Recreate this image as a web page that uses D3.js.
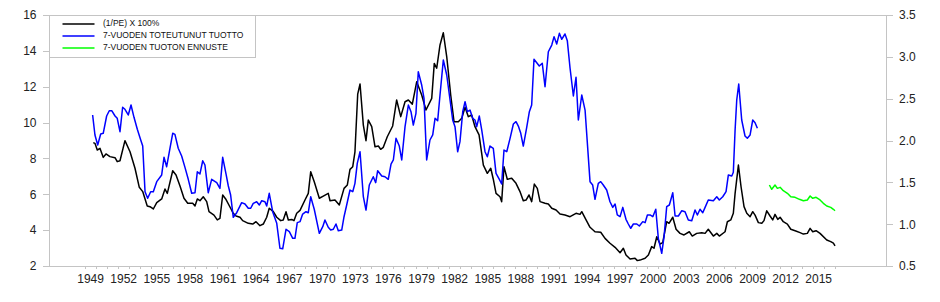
<!DOCTYPE html>
<html>
<head>
<meta charset="utf-8">
<script src="https://cdn.jsdelivr.net/npm/d3@7"></script>
<style>
  body { margin: 0; background: #fff; }
  svg { display: block; font-family: 'Liberation Sans', Arial, Helvetica, sans-serif; }
  .axis text { fill: #222; font-size: 12px; }
  .axis path, .axis line { stroke: #c4c4c4; shape-rendering: crispEdges; }
  .legend text { font-size: 8.5px; fill: #111; }
</style>
</head>
<body>
<svg width="940" height="302"></svg>
<script>
// (1/PE) x 100%, left axis
const peYears = [1949.79, 1949.94, 1950.15, 1950.40, 1950.69, 1950.94, 1951.30, 1951.76, 1951.96, 1952.21, 1952.66, 1953.12, 1953.57, 1953.96, 1954.27, 1954.68, 1954.93, 1955.23, 1955.54, 1955.99, 1956.29, 1956.50, 1956.99, 1957.29, 1957.65, 1958.01, 1958.35, 1958.80, 1959.01, 1959.22, 1959.46, 1959.76, 1960.07, 1960.28, 1960.73, 1961.03, 1961.27, 1961.52, 1961.79, 1962.24, 1962.48, 1962.73, 1963.09, 1963.33, 1963.84, 1964.24, 1964.54, 1964.90, 1965.20, 1965.51, 1965.74, 1966.11, 1966.42, 1966.78, 1967.01, 1967.26, 1967.47, 1967.78, 1967.98, 1968.23, 1968.53, 1968.98, 1969.28, 1969.50, 1969.82, 1970.28, 1970.64, 1971.09, 1971.25, 1971.70, 1972.09, 1972.52, 1972.82, 1973.06, 1973.31, 1973.51, 1973.76, 1973.97, 1974.27, 1974.51, 1974.72, 1975.03, 1975.33, 1975.63, 1975.84, 1976.08, 1976.44, 1976.93, 1977.29, 1977.66, 1978.05, 1978.35, 1978.71, 1979.11, 1979.56, 1979.95, 1980.47, 1980.70, 1980.92, 1981.22, 1981.52, 1981.83, 1982.19, 1982.49, 1982.88, 1983.19, 1983.49, 1983.79, 1984.09, 1984.39, 1984.76, 1985.15, 1985.51, 1985.82, 1986.05, 1986.30, 1986.66, 1986.81, 1987.02, 1987.32, 1987.72, 1988.11, 1988.47, 1988.77, 1989.02, 1989.29, 1989.53, 1989.77, 1990.04, 1990.29, 1990.74, 1991.04, 1991.35, 1991.74, 1992.10, 1992.55, 1993.01, 1993.55, 1993.91, 1994.07, 1994.46, 1994.82, 1995.27, 1995.79, 1996.18, 1996.63, 1997.09, 1997.54, 1997.84, 1998.08, 1998.45, 1998.90, 1999.11, 1999.35, 1999.81, 2000.11, 2000.41, 2000.62, 2000.87, 2001.17, 2001.41, 2001.77, 2001.98, 2002.32, 2002.62, 2002.98, 2003.34, 2003.82, 2004.09, 2004.49, 2004.95, 2005.25, 2005.54, 2006.00, 2006.31, 2006.54, 2007.06, 2007.27, 2007.58, 2007.81, 2007.97, 2008.27, 2008.51, 2008.78, 2009.03, 2009.33, 2009.57, 2009.78, 2010.08, 2010.39, 2010.59, 2010.84, 2011.14, 2011.38, 2011.59, 2011.84, 2012.05, 2012.34, 2012.71, 2013.02, 2013.41, 2013.86, 2014.16, 2014.52, 2014.77, 2015.01, 2015.31, 2015.67, 2016.28, 2016.64, 2016.88, 2017.03]
const peValues = [8.88, 8.84, 8.47, 8.56, 8.06, 8.25, 8.10, 8.04, 7.82, 7.87, 8.99, 8.37, 7.45, 6.39, 6.15, 5.35, 5.31, 5.18, 5.53, 5.74, 6.29, 6.05, 7.31, 7.08, 6.46, 5.78, 5.50, 5.50, 5.35, 5.74, 5.64, 5.86, 5.59, 5.03, 4.84, 4.57, 4.66, 5.96, 5.74, 5.22, 4.94, 4.79, 4.72, 4.53, 4.38, 4.34, 4.47, 4.25, 4.34, 4.72, 5.22, 5.03, 4.72, 4.53, 4.57, 5.03, 4.57, 4.60, 4.53, 4.94, 5.10, 5.68, 6.05, 7.26, 6.70, 5.78, 5.90, 6.05, 5.64, 5.68, 5.40, 6.33, 6.52, 7.39, 7.54, 8.37, 11.59, 12.15, 9.86, 8.99, 10.14, 9.77, 8.65, 8.69, 8.51, 8.62, 9.21, 9.81, 11.26, 10.33, 11.16, 11.26, 11.03, 12.28, 11.54, 10.70, 11.35, 13.30, 13.03, 14.33, 15.01, 13.67, 11.54, 10.05, 10.05, 10.24, 10.85, 10.33, 10.42, 9.77, 9.31, 7.63, 7.17, 7.45, 6.84, 6.05, 5.86, 5.59, 7.54, 6.84, 6.89, 6.61, 6.15, 5.64, 5.68, 5.96, 5.59, 6.57, 6.33, 5.59, 5.50, 5.46, 5.22, 5.12, 4.90, 4.84, 4.75, 4.94, 4.88, 5.03, 4.57, 4.16, 3.91, 3.88, 3.54, 3.27, 3.04, 2.74, 2.99, 2.61, 2.39, 2.43, 2.30, 2.33, 2.43, 2.61, 3.08, 2.99, 3.63, 3.23, 3.30, 4.47, 4.38, 4.72, 4.05, 3.82, 3.73, 3.91, 3.67, 3.82, 3.86, 3.82, 4.05, 3.67, 3.82, 3.67, 3.91, 4.47, 4.57, 4.94, 6.05, 7.63, 6.42, 5.31, 4.94, 4.75, 5.03, 4.84, 4.42, 4.38, 4.53, 5.08, 4.79, 4.57, 4.88, 4.60, 4.72, 4.47, 4.34, 4.05, 3.97, 3.86, 3.78, 3.82, 4.10, 3.91, 3.97, 3.82, 3.45, 3.36, 3.27, 3.12]

// 7-year realised return, right axis
const realYears = [1949.73, 1949.94, 1950.19, 1950.46, 1950.69, 1951.00, 1951.24, 1951.46, 1951.76, 1951.96, 1952.21, 1952.45, 1952.66, 1952.96, 1953.21, 1953.48, 1953.78, 1954.09, 1954.27, 1954.48, 1954.72, 1954.99, 1955.23, 1955.54, 1955.99, 1956.20, 1956.44, 1956.74, 1956.99, 1957.19, 1957.49, 1957.80, 1958.10, 1958.40, 1958.71, 1959.01, 1959.22, 1959.46, 1959.71, 1959.91, 1960.21, 1960.52, 1960.98, 1961.27, 1961.52, 1961.82, 1962.03, 1962.24, 1962.48, 1962.79, 1963.24, 1963.54, 1963.84, 1964.06, 1964.29, 1964.60, 1964.84, 1965.06, 1965.35, 1965.51, 1965.74, 1966.05, 1966.42, 1966.71, 1966.96, 1967.26, 1967.56, 1967.87, 1968.07, 1968.28, 1968.53, 1968.77, 1969.07, 1969.28, 1969.50, 1969.82, 1970.28, 1970.59, 1970.79, 1971.09, 1971.31, 1971.55, 1971.79, 1972.00, 1972.31, 1972.52, 1972.76, 1973.06, 1973.31, 1973.51, 1973.72, 1973.97, 1974.27, 1974.51, 1974.81, 1975.17, 1975.39, 1975.57, 1975.94, 1976.23, 1976.53, 1976.78, 1976.99, 1977.23, 1977.53, 1977.75, 1978.05, 1978.35, 1978.59, 1978.80, 1979.04, 1979.25, 1979.56, 1979.77, 1980.01, 1980.31, 1980.56, 1980.77, 1981.01, 1981.22, 1981.52, 1981.83, 1982.13, 1982.37, 1982.58, 1982.82, 1983.03, 1983.28, 1983.49, 1983.70, 1983.94, 1984.18, 1984.39, 1984.55, 1984.78, 1985.00, 1985.30, 1985.51, 1985.75, 1986.05, 1986.30, 1986.60, 1986.81, 1987.02, 1987.27, 1987.57, 1987.87, 1988.11, 1988.32, 1988.54, 1988.77, 1989.08, 1989.32, 1989.53, 1989.74, 1989.99, 1990.22, 1990.49, 1990.74, 1991.04, 1991.35, 1991.56, 1991.80, 1992.04, 1992.25, 1992.55, 1992.76, 1993.01, 1993.31, 1993.55, 1993.76, 1994.07, 1994.37, 1994.82, 1995.06, 1995.27, 1995.57, 1995.79, 1996.02, 1996.33, 1996.63, 1996.88, 1997.09, 1997.29, 1997.54, 1997.79, 1998.08, 1998.29, 1998.51, 1998.75, 1999.06, 1999.29, 1999.60, 1999.81, 2000.02, 2000.26, 2000.51, 2000.78, 2001.01, 2001.32, 2001.53, 2001.77, 2002.01, 2002.32, 2002.53, 2002.83, 2003.14, 2003.43, 2003.73, 2004.04, 2004.34, 2004.55, 2004.79, 2005.04, 2005.25, 2005.54, 2006.00, 2006.31, 2006.54, 2006.85, 2007.15, 2007.36, 2007.67, 2007.81, 2007.97, 2008.12, 2008.30, 2008.57, 2008.87, 2009.08, 2009.33, 2009.57, 2009.78, 2009.99]
const realValues = [2.305, 2.066, 1.946, 2.078, 2.086, 2.293, 2.356, 2.356, 2.293, 2.265, 2.105, 2.397, 2.373, 2.305, 2.424, 2.277, 2.134, 2.006, 1.934, 1.388, 1.309, 1.388, 1.388, 1.508, 1.588, 1.799, 1.687, 1.907, 2.086, 2.074, 1.907, 1.815, 1.679, 1.536, 1.369, 1.376, 1.627, 1.600, 1.758, 1.707, 1.376, 1.536, 1.496, 1.428, 1.799, 1.600, 1.456, 1.349, 1.082, 1.137, 1.257, 1.241, 1.190, 1.190, 1.249, 1.268, 1.229, 1.280, 1.268, 1.217, 1.369, 1.149, 1.010, 0.712, 0.705, 0.939, 0.910, 0.831, 0.831, 1.018, 1.030, 1.121, 1.149, 1.137, 1.328, 1.178, 0.891, 0.970, 1.050, 0.963, 0.930, 0.939, 1.002, 0.922, 0.930, 1.089, 1.229, 1.408, 1.388, 1.488, 1.727, 1.866, 1.328, 1.169, 1.468, 1.567, 1.496, 1.639, 1.576, 1.567, 1.536, 1.719, 1.767, 2.026, 1.934, 1.767, 2.165, 2.424, 2.344, 2.185, 2.325, 2.822, 2.663, 2.504, 1.767, 2.006, 2.066, 2.265, 2.237, 2.544, 2.962, 2.783, 2.484, 2.245, 2.165, 1.866, 1.986, 2.344, 2.464, 2.344, 2.364, 2.265, 2.245, 2.165, 2.293, 2.126, 1.866, 1.806, 1.934, 1.907, 1.608, 1.536, 1.480, 1.886, 1.866, 2.026, 2.197, 2.225, 2.173, 2.086, 1.934, 2.158, 2.344, 2.424, 2.971, 2.930, 2.890, 2.923, 2.643, 3.061, 3.141, 3.241, 3.153, 3.281, 3.209, 3.273, 3.193, 2.863, 2.532, 2.755, 2.245, 2.544, 2.364, 1.508, 1.468, 1.297, 1.488, 1.508, 1.468, 1.408, 1.268, 1.201, 1.241, 1.110, 1.089, 1.201, 1.058, 1.002, 0.951, 1.002, 1.002, 0.978, 1.030, 1.018, 1.110, 1.110, 1.089, 1.178, 0.831, 0.652, 0.850, 1.209, 1.229, 1.376, 1.098, 1.098, 1.161, 1.149, 1.050, 1.041, 1.169, 1.110, 1.178, 1.137, 1.201, 1.289, 1.280, 1.328, 1.289, 1.328, 1.388, 1.588, 1.576, 1.620, 2.125, 2.484, 2.675, 2.245, 2.054, 2.026, 2.066, 2.245, 2.213, 2.146]

// 7-year return forecast, right axis
const forecastYears = [2011.08, 2011.29, 2011.59, 2011.80, 2012.05, 2012.34, 2012.71, 2013.02, 2013.41, 2013.80, 2014.16, 2014.52, 2014.77, 2015.01, 2015.31, 2015.67, 2015.97, 2016.28, 2016.64, 2016.88, 2017.03]
const forecastValues = [1.468, 1.417, 1.468, 1.428, 1.440, 1.400, 1.369, 1.328, 1.321, 1.297, 1.280, 1.289, 1.337, 1.309, 1.321, 1.289, 1.249, 1.217, 1.201, 1.178, 1.161]

const leftTicks = [2, 4, 6, 8, 10, 12, 14, 16]
const rightTicks = [0.5, 1.0, 1.5, 2.0, 2.5, 3.0, 3.5]
const yearLabels = d3.range(1949, 2016, 3)
const yearTicks = d3.range(1949, 2018)

const legendItems = ['(1/PE) X 100%', '7-VUODEN TOTEUTUNUT TUOTTO', '7-VUODEN TUOTON ENNUSTE']
const colors = ['#000000', '#0000ff', '#00ff00']

const plot = { left: 49.5, right: 886, top: 15, bottom: 266 }

const svg = d3.select('svg')

const x = d3.scaleLinear().domain([1945.82, 2021.65]).range([plot.left, plot.right])
const yL = d3.scaleLinear().domain([2, 16]).range([plot.bottom, plot.top])
const yR = d3.scaleLinear().domain([0.5, 3.5]).range([plot.bottom, plot.top])

// frame
svg.append('rect')
  .attr('x', plot.left).attr('y', plot.top + 0.5)
  .attr('width', plot.right - plot.left).attr('height', plot.bottom - plot.top)
  .attr('fill', 'none').attr('stroke', '#c4c4c4')
  .attr('shape-rendering', 'crispEdges')

svg.append('g')
  .attr('class', 'axis')
  .attr('transform', `translate(${plot.left},0)`)
  .call(d3.axisLeft(yL).tickValues(leftTicks).tickSize(7).tickPadding(6))
  .call((g) => g.select('.domain').remove())

svg.append('g')
  .attr('class', 'axis')
  .attr('transform', `translate(${plot.right},0)`)
  .call(d3.axisRight(yR).tickValues(rightTicks).tickSize(7).tickPadding(6).tickFormat(d3.format('.1f')))
  .call((g) => g.select('.domain').remove())

// yearly ticks
svg.append('g')
  .attr('class', 'axis')
  .attr('transform', `translate(0,${plot.bottom})`)
  .call(d3.axisBottom(x).tickValues(yearTicks).tickSize(3).tickFormat(''))
  .call((g) => g.select('.domain').remove())

// year labels, centred in the year
svg.append('g')
  .attr('class', 'axis')
  .attr('transform', `translate(0,${plot.bottom})`)
  .call(d3.axisBottom(x).tickValues(yearLabels.map((d) => d + 0.5)).tickSize(0).tickPadding(8).tickFormat((d) => Math.floor(d)))
  .call((g) => g.select('.domain').remove())

const series = [
  { years: peYears, values: peValues, y: yL, color: colors[0] },
  { years: realYears, values: realValues, y: yR, color: colors[1] },
  { years: forecastYears, values: forecastValues, y: yR, color: colors[2] },
]

series.forEach((s) => {
  const pts = s.years.map((yr, i) => [yr, s.values[i]])
  const line = d3.line()
    .x((d) => x(d[0]))
    .y((d) => s.y(d[1]))
  svg.append('path')
    .datum(pts)
    .attr('d', line)
    .attr('fill', 'none')
    .attr('stroke', s.color)
    .attr('stroke-width', 1.5)
    .attr('stroke-linejoin', 'round')
})

// legend
const lg = svg.append('g').attr('class', 'legend')
lg.append('rect')
  .attr('x', plot.left).attr('y', plot.top + 0.5)
  .attr('width', 205.5).attr('height', 42)
  .attr('fill', '#fff').attr('stroke', '#c4c4c4')
  .attr('shape-rendering', 'crispEdges')

legendItems.forEach((label, i) => {
  const yy = 24 + i * 12
  lg.append('line')
    .attr('x1', 62.5).attr('x2', 94.5)
    .attr('y1', yy).attr('y2', yy)
    .attr('stroke', colors[i]).attr('stroke-width', 1.5)
  lg.append('text')
    .attr('x', 103).attr('y', yy)
    .attr('dominant-baseline', 'middle')
    .text(label)
})
</script>
</body>
</html>
